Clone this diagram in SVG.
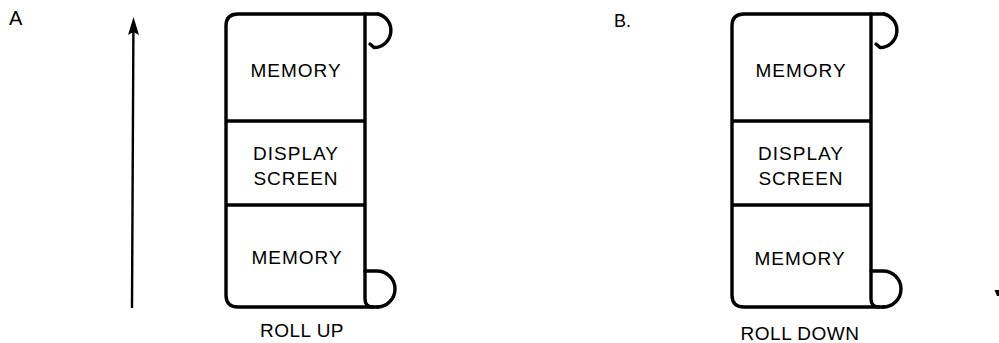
<svg xmlns="http://www.w3.org/2000/svg" width="999" height="343" viewBox="0 0 999 343">
<defs>
<style>
.ol{fill:none;stroke:#000;stroke-width:3.4;stroke-linejoin:round;stroke-linecap:round}
.dv{stroke:#000;stroke-width:3.4}
.t{font-family:"Liberation Sans",Arial,sans-serif;font-size:19px;letter-spacing:1px;fill:#000;text-anchor:middle}
.lb{font-family:"Liberation Sans",Arial,sans-serif;fill:#000}
</style>
<g id="scroll-shape">
<path class="ol" d="M378 14 L238 14 Q226 14 226 26 L226 295 Q226 307 238 307 L378 307"/>
<path class="ol" d="M365 14 L365 299 Q365 307 373 307"/>
<path class="ol" d="M378 14 A17 17 0 0 1 374 47.5 L370 44"/>
<path class="ol" d="M365 271 L377 271 A18 18 0 0 1 377 307"/>
<line class="dv" x1="226" y1="121" x2="365" y2="121"/>
<line class="dv" x1="226" y1="205" x2="365" y2="205"/>
</g>
</defs>
<text class="lb" x="9" y="25" font-size="20">A</text>
<text class="lb" x="614" y="27" font-size="18">B.</text>
<g id="connectors">
<line x1="132" y1="308" x2="133.4" y2="30" stroke="#000" stroke-width="2.4"/>
<polygon points="133.5,17 139,35 133.4,32 128,35" fill="#000"/>
<polygon points="994.5,290 999,290 999,296 997,296" fill="#000"/>
</g>
<g id="scrollA">
<use href="#scroll-shape"/>
<text class="t" x="296" y="77">MEMORY</text>
</g>
<g id="displayA">
<text class="t" x="296" y="160">DISPLAY</text>
<text class="t" x="296" y="185">SCREEN</text>
</g>
<g id="memoryA2">
<text class="t" x="297" y="264">MEMORY</text>
</g>
<g id="labelA">
<text class="t" x="302" y="337" style="letter-spacing:0.5px">ROLL UP</text>
</g>
<g id="scrollB">
<use href="#scroll-shape" transform="translate(506,0)"/>
<text class="t" x="801" y="77">MEMORY</text>
</g>
<g id="displayB">
<text class="t" x="801" y="160">DISPLAY</text>
<text class="t" x="801" y="185">SCREEN</text>
</g>
<g id="memoryB2">
<text class="t" x="800" y="265">MEMORY</text>
</g>
<g id="labelB">
<text class="t" x="800" y="340" style="letter-spacing:0.5px">ROLL DOWN</text>
</g>
</svg>
